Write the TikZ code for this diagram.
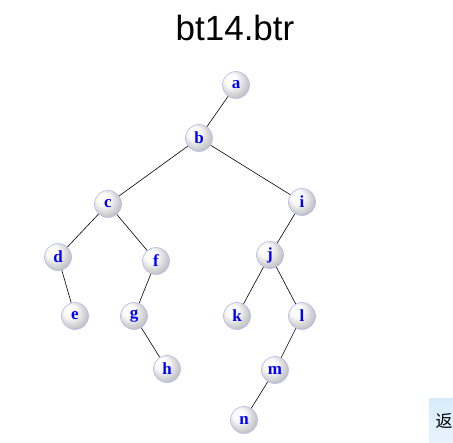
\documentclass[tikz,border=0pt]{standalone}
\usepackage{fontspec}
\setmainfont{Liberation Serif}
\newfontfamily\titlefont{Liberation Sans}
\newfontfamily\cjkfont{Noto Sans CJK SC}
\pgfdeclareradialshading{nodeball}{\pgfpoint{-12bp}{12bp}}{%
  color(0bp)=(white); color(12bp)=(white!96!gray); color(30bp)=(gray!50!white); color(50bp)=(gray!65!white)}
\tikzset{
  tn/.style={circle, minimum size=27pt, inner sep=0pt, draw={rgb,255:red,185;green,185;blue,240}, line width=0.6pt,
    shading=nodeball, text={rgb,255:red,0;green,0;blue,255}, font=\bfseries\fontsize{17pt}{17pt}\selectfont},
  edge/.style={black, line width=0.6pt}
}
\begin{document}
\begin{tikzpicture}[x=1pt,y=-1pt]
\useasboundingbox (0,0) rectangle (453,443);
\fill[white] (0,0) rectangle (453,443);
\node[font=\titlefont\fontsize{35pt}{35pt}\selectfont, anchor=base, inner sep=0pt] (title) at (235,41) {bt14.btr};
\node[tn] (a) at (236,85) {a};
\node[tn] (b) at (199,138) {b};
\node[tn] (c) at (108,204) {c};
\node[tn] (i) at (302,202) {i};
\node[tn] (d) at (58,257) {d};
\node[tn] (f) at (156,261) {f};
\node[tn] (j) at (270,255) {j};
\node[tn] (e) at (75,316) {e};
\node[tn] (g) at (134,316) {g};
\node[tn] (k) at (237,316) {k};
\node[tn] (l) at (302,316) {l};
\node[tn] (h) at (167,369) {h};
\node[tn] (m) at (275,370) {m};
\node[tn] (n) at (244,420) {n};
\draw[edge] (a) -- (b);
\draw[edge] (b) -- (c);
\draw[edge] (b) -- (i);
\draw[edge] (c) -- (d);
\draw[edge] (c) -- (f);
\draw[edge] (d) -- (e);
\draw[edge] (f) -- (g);
\draw[edge] (g) -- (h);
\draw[edge] (i) -- (j);
\draw[edge] (j) -- (k);
\draw[edge] (j) -- (l);
\draw[edge] (l) -- (m);
\draw[edge] (m) -- (n);
\node[anchor=north west, minimum width=26pt, minimum height=46pt, inner sep=0pt,
  top color={rgb,255:red,215;green,236;blue,252}, bottom color={rgb,255:red,232;green,244;blue,253},
  font=\cjkfont\fontsize{17pt}{17pt}\selectfont, text=black] (ret) at (429,398) {\hspace*{4pt}返\hfill};
\end{tikzpicture}
\end{document}
